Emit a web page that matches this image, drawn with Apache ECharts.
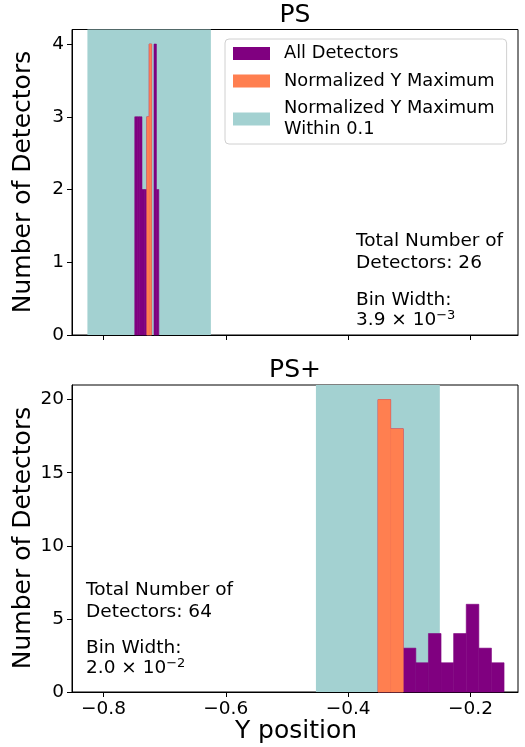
<!DOCTYPE html>
<html>
<head>
<meta charset="utf-8">
<script src="https://cdn.jsdelivr.net/npm/echarts@6/dist/echarts.min.js"></script>
<style>
html,body{margin:0;padding:0;background:#fff;}
#chart{width:525px;height:747px;}
</style>
</head>
<body>
<div id="chart"></div>
<script>
// ---- data ----
const xMin = -0.8514, xMax = -0.1224;
const xTicks = [-0.8, -0.6, -0.4, -0.2];
const psYMax = 4.2;
const psYTicks = [0, 1, 2, 3, 4];
const psPlusYMax = 21;
const psPlusYTicks = [0, 5, 10, 15, 20];

const psBinStart = -0.7488;
const psBinWidth = 0.00393;
const psAllCounts = [3, 3, 3, 2, 2, 3, 4, 0, 4, 2];
const psMaxCounts = [0, 0, 0, 0, 0, 3, 4, 0, 0, 0];
const psSpan = [-0.8262, -0.6244];
const psBinLabel = ['3.9', '−3'];

const psPlusBinStart = -0.3512;
const psPlusBinWidth = 0.0206;
const psPlusAllCounts = [20, 18, 3, 2, 4, 2, 4, 6, 3, 2];
const psPlusMaxCounts = [20, 18, 0, 0, 0, 0, 0, 0, 0, 0];
const psPlusSpan = [-0.4527, -0.2502];
const psPlusBinLabel = ['2.0', '−2'];

const titles = ['PS', 'PS+'];
const names = ['All Detectors', 'Normalized Y Maximum', 'Normalized Y Maximum\nWithin 0.1'];
const COL_ALL = '#800080', COL_MAX = '#ff7f50', COL_SPAN = '#a3d1d1';
const FONT = 'DejaVu Sans';

function bins(start, width, counts) {
  return counts.map((c, i) => [start + i * width, start + (i + 1) * width, c]);
}
const sum = a => a.reduce((s, v) => s + v, 0);

function barRender(color) {
  return function (params, api) {
    const c = api.value(2);
    if (!c) return null;
    const p0 = api.coord([api.value(0), 0]);
    const p1 = api.coord([api.value(1), c]);
    return { type: 'rect', shape: { x: p0[0], y: p1[1], width: p1[0] - p0[0], height: p0[1] - p1[1] }, style: { fill: color, stroke: color, lineWidth: 0.6 } };
  };
}
function spanRender(params, api) {
  const cs = params.coordSys;
  const a = api.coord([api.value(0), 0]);
  const b = api.coord([api.value(1), 0]);
  return { type: 'rect', shape: { x: a[0], y: cs.y, width: b[0] - a[0], height: cs.height }, style: { fill: COL_SPAN } };
}
const fmtX = v => (v < 0 ? '−' : '') + Math.abs(v).toFixed(1);

function xAxis(gi, showLabels) {
  return {
    type: 'value', gridIndex: gi, min: xMin, max: xMax,
    splitLine: { show: false },
    axisLine: { show: true, onZero: false, lineStyle: { color: '#000', width: 1 } },
    axisTick: { show: true, customValues: xTicks, length: 5, lineStyle: { color: '#000', width: 1 } },
    axisLabel: { show: showLabels, customValues: xTicks, formatter: fmtX, margin: 8, color: '#000', fontSize: 18.5, fontFamily: FONT }
  };
}
function yAxis(gi, max, ticks) {
  return {
    type: 'value', gridIndex: gi, min: 0, max: max,
    splitLine: { show: false },
    axisLine: { show: true, lineStyle: { color: '#000', width: 1 } },
    axisTick: { show: true, customValues: ticks, length: 5, lineStyle: { color: '#000', width: 1 } },
    axisLabel: { customValues: ticks, margin: 8, color: '#000', fontSize: 18.5, fontFamily: FONT }
  };
}

function seriesFor(gi, start, width, all, max, span) {
  return [
    { type: 'custom', name: names[2], xAxisIndex: gi, yAxisIndex: gi, renderItem: spanRender, itemStyle: { color: COL_SPAN }, data: [[span[0], span[1]]], z: 1, silent: true },
    { type: 'custom', name: names[0], xAxisIndex: gi, yAxisIndex: gi, renderItem: barRender(COL_ALL), itemStyle: { color: COL_ALL }, data: bins(start, width, all), z: 2, silent: true },
    { type: 'custom', name: names[1], xAxisIndex: gi, yAxisIndex: gi, renderItem: barRender(COL_MAX), itemStyle: { color: COL_MAX }, data: bins(start, width, max), z: 3, silent: true }
  ];
}

const txt = (x, y, text, size, extra) => Object.assign({
  type: 'text', x: x, y: y, z: 100,
  style: Object.assign({ text: text, fill: '#000', font: size + 'px "' + FONT + '"', textAlign: 'left', textVerticalAlign: 'middle' }, extra || {})
});
function binText(x, y, lbl) {
  return {
    type: 'text', x: x, y: y, z: 100,
    style: {
      text: lbl[0] + ' × 10{sup|' + lbl[1] + '}',
      fill: '#000', fontFamily: FONT, fontSize: 18.5, lineHeight: 22, textVerticalAlign: 'middle',
      rich: { sup: { fontSize: 13, lineHeight: 22, verticalAlign: 'top', fontFamily: FONT, fill: '#000', padding: [0, 0, 8, 0] } }
    }
  };
}

const chart = echarts.init(document.getElementById('chart'), null, { renderer: 'canvas' });
chart.setOption({
  animation: false,
  backgroundColor: '#fff',
  grid: [
    { left: 72, top: 29.5, width: 446, height: 305.5, show: true, borderColor: '#000', borderWidth: 1, backgroundColor: 'transparent' },
    { left: 72, top: 385, width: 446, height: 307, show: true, borderColor: '#000', borderWidth: 1, backgroundColor: 'transparent' }
  ],
  xAxis: [xAxis(0, false), xAxis(1, true)],
  yAxis: [yAxis(0, psYMax, psYTicks), yAxis(1, psPlusYMax, psPlusYTicks)],
  legend: {
    data: names.map(n => ({ name: n, icon: 'rect' })),
    orient: 'vertical', left: 225, top: 39,
    itemWidth: 37, itemHeight: 13, itemGap: 6.5,
    padding: [4, 12, 4, 8],
    backgroundColor: 'rgba(255,255,255,0.85)', borderColor: '#d0d0d0', borderWidth: 1, borderRadius: 4,
    selectedMode: false,
    textStyle: { color: '#000', fontSize: 17.8, lineHeight: 21, fontFamily: FONT, padding: [0, 0, 0, 9] }
  },
  series: [].concat(
    seriesFor(0, psBinStart, psBinWidth, psAllCounts, psMaxCounts, psSpan),
    seriesFor(1, psPlusBinStart, psPlusBinWidth, psPlusAllCounts, psPlusMaxCounts, psPlusSpan)
  ),
  graphic: [
    txt(295, 15, titles[0], 25, { textAlign: 'center' }),
    txt(295, 370, titles[1], 25, { textAlign: 'center' }),
    txt(296, 731, 'Y position', 25, { textAlign: 'center' }),
    Object.assign(txt(23, 182, 'Number of Detectors', 25, { textAlign: 'center' }), { rotation: Math.PI / 2 }),
    Object.assign(txt(23, 538, 'Number of Detectors', 25, { textAlign: 'center' }), { rotation: Math.PI / 2 }),
    txt(356, 252, 'Total Number of\nDetectors: ' + sum(psAllCounts), 18.5, { lineHeight: 21.5 }),
    txt(356, 300, 'Bin Width:', 18.5),
    binText(356, 320, psBinLabel),
    txt(86, 601, 'Total Number of\nDetectors: ' + sum(psPlusAllCounts), 18.5, { lineHeight: 21.5 }),
    txt(86, 648, 'Bin Width:', 18.5),
    binText(86, 668, psPlusBinLabel)
  ]
});
</script>
</body>
</html>
